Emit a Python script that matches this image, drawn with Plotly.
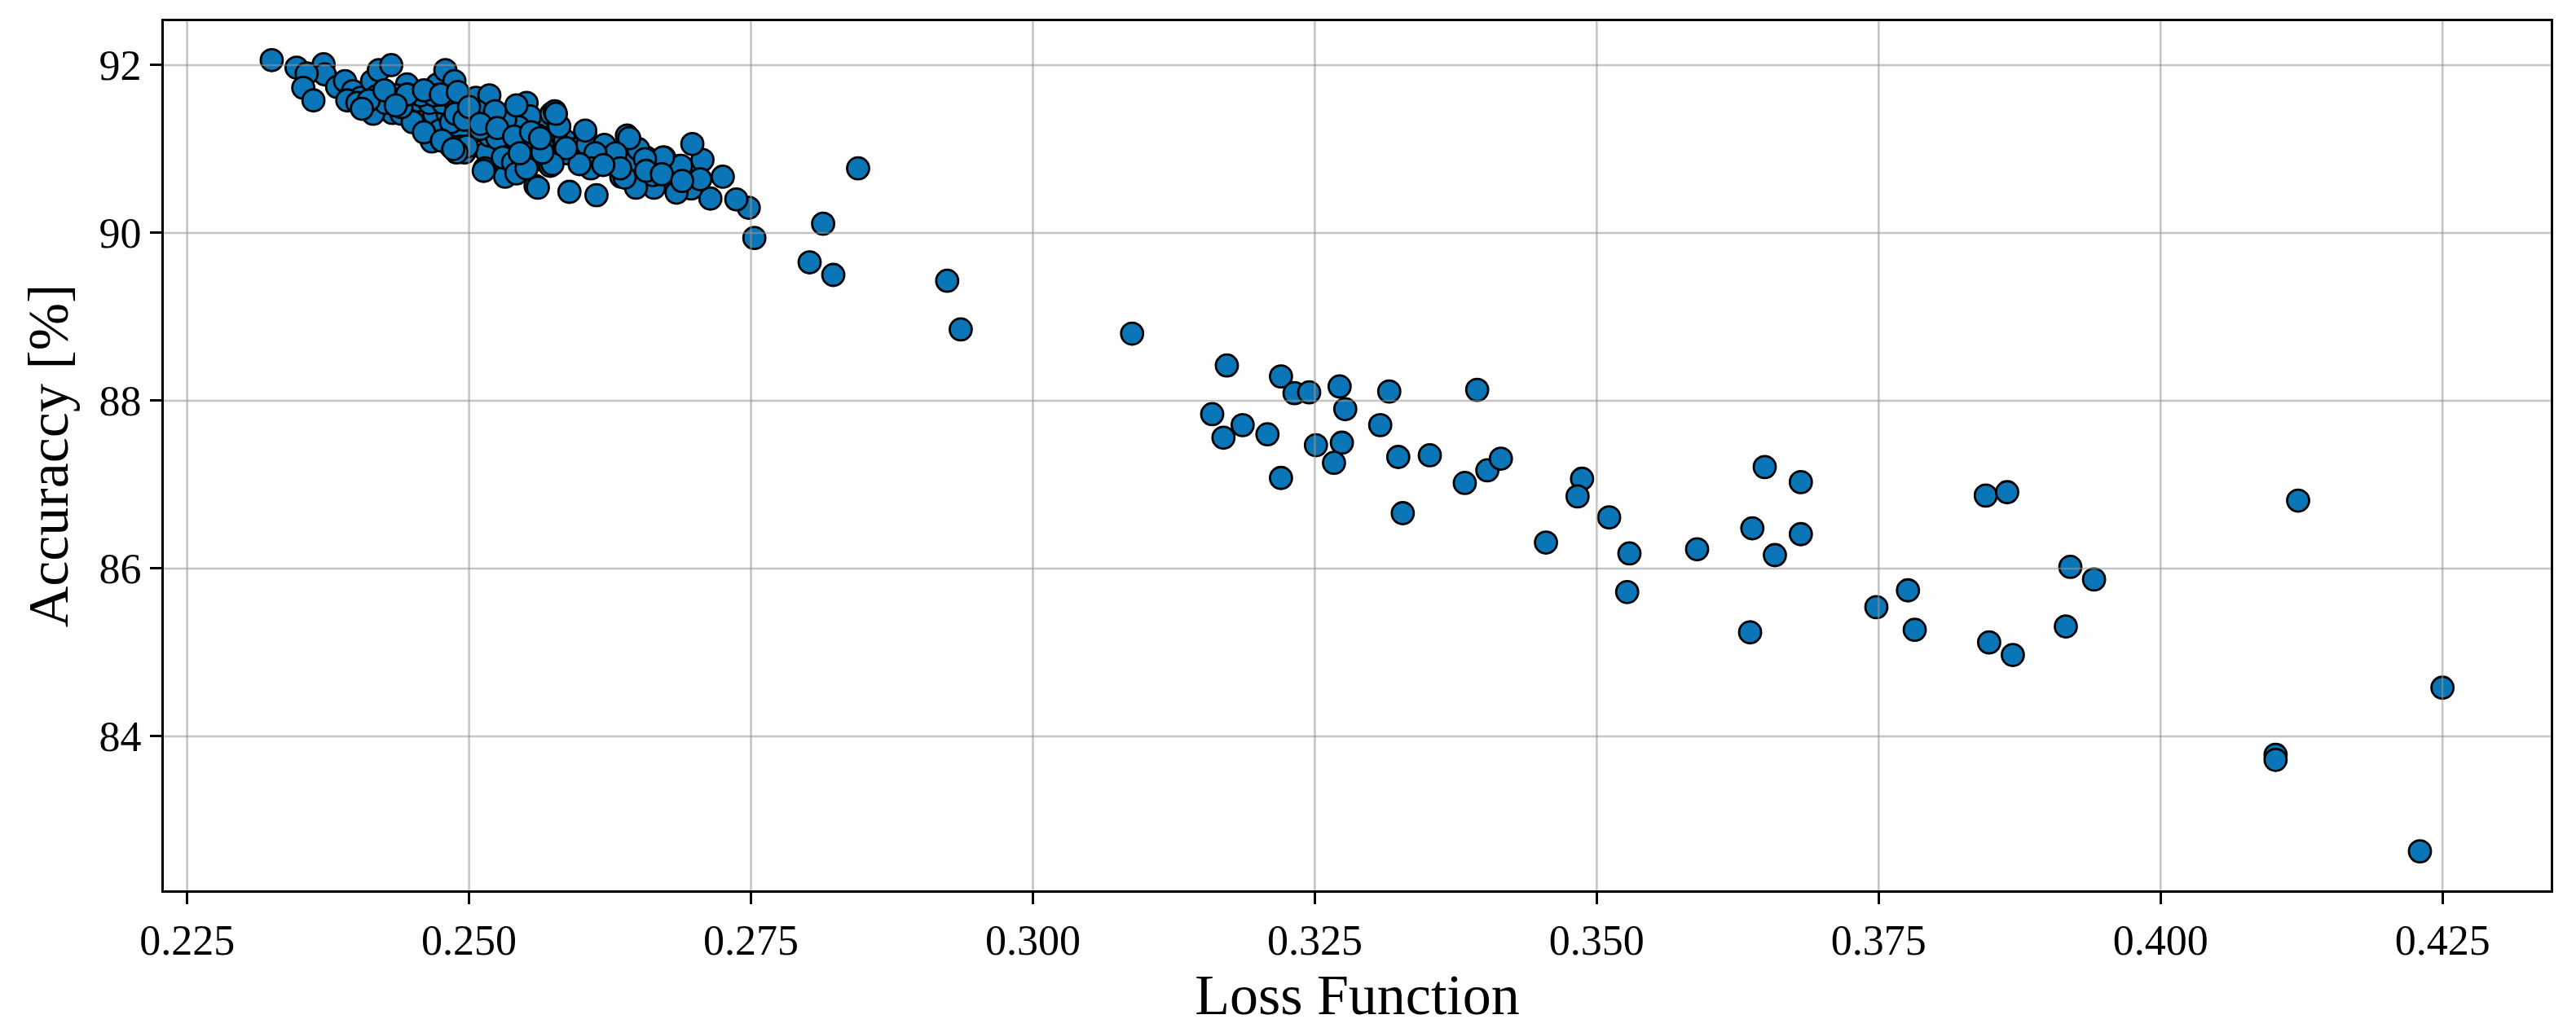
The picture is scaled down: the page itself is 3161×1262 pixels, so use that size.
import plotly.graph_objects as go

# ---- data (Loss Function vs Accuracy [%]) ----
loss_cluster = [
    0.2325, 0.2347, 0.2371, 0.2372, 0.2356, 0.2353, 0.2362, 0.2383, 0.2390, 0.2397,
    0.2404, 0.2414, 0.2418, 0.2420, 0.2431, 0.2432, 0.2415, 0.2426, 0.2445, 0.2448,
    0.2457, 0.2457, 0.2469, 0.2472, 0.2479, 0.2487, 0.2481, 0.2467, 0.2474, 0.2494,
    0.2496, 0.2493, 0.2506, 0.2509, 0.2516, 0.2518, 0.2522, 0.2514, 0.2532, 0.2534,
    0.2549, 0.2551, 0.2554, 0.2559, 0.2566, 0.2571, 0.2572, 0.2392, 0.2401, 0.2411,
    0.2436, 0.2440, 0.2450, 0.2455, 0.2465, 0.2477, 0.2488, 0.2484, 0.2457, 0.2469,
    0.2488, 0.2496, 0.2484, 0.2498, 0.2489, 0.2507, 0.2518, 0.2525, 0.2530, 0.2539,
    0.2544, 0.2532, 0.2542, 0.2561, 0.2556, 0.2542, 0.2551, 0.2571, 0.2573, 0.2513,
    0.2510, 0.2523, 0.2549, 0.2576, 0.2579, 0.2587, 0.2603, 0.2612, 0.2629, 0.2640,
    0.2657, 0.2673, 0.2687, 0.2635, 0.2655, 0.2676,
    0.2460, 0.2476, 0.2486, 0.2440, 0.2445, 0.2460, 0.2475, 0.2490, 0.2500, 0.2510,
    0.2525, 0.2540, 0.2555, 0.2545, 0.2565, 0.2585, 0.2595, 0.2605, 0.2620, 0.2625,
    0.2645, 0.2650, 0.2668, 0.2680, 0.2695, 0.2405, 0.2425, 0.2435,
    0.2753, 0.2748, 0.2737, 0.2725, 0.2714, 0.2707, 0.2698, 0.2697, 0.2688, 0.2681,
    0.2684, 0.2672, 0.2664, 0.2663, 0.2656, 0.2648, 0.2642, 0.2638, 0.2630, 0.2634,
    0.2613, 0.2612, 0.2608, 0.2603, 0.2589, 0.2598, 0.2586, 0.2580, 0.2577, 0.2574,
    0.2565, 0.2561, 0.2563, 0.2619, 0.2657, 0.2671, 0.2705, 0.2689,
]
acc_cluster = [
    92.06, 91.97, 92.01, 91.89, 91.90, 91.73, 91.58, 91.74, 91.81, 91.69,
    91.61, 91.81, 91.63, 91.94, 92.00, 91.43, 91.42, 91.55, 91.77, 91.55,
    91.35, 91.48, 91.42, 91.77, 91.94, 91.81, 91.42, 91.09, 91.22, 91.16,
    90.96, 91.03, 91.61, 91.22, 90.96, 91.64, 91.42, 90.77, 90.67, 91.00,
    91.09, 91.55, 91.39, 90.56, 90.87, 91.26, 90.80, 91.58, 91.55, 91.58,
    91.64, 91.42, 91.32, 91.58, 91.55, 91.55, 91.55, 91.32, 91.64, 91.64,
    91.42, 91.35, 91.03, 91.03, 90.96, 91.45, 91.16, 91.13, 90.90, 90.84,
    91.26, 91.35, 91.52, 91.16, 91.00, 90.71, 90.77, 91.06, 91.42, 90.74,
    91.24, 91.45, 91.10, 91.45, 91.27, 90.95, 91.19, 90.96, 90.96, 91.16,
    90.90, 90.90, 90.80, 90.67, 90.74, 90.61,
    91.20, 91.10, 91.00, 91.50, 91.65, 91.70, 91.65, 91.68, 91.50, 91.30,
    91.25, 91.15, 91.20, 90.95, 91.05, 91.10, 91.00, 91.05, 91.05, 90.88,
    90.85, 91.00, 90.78, 90.72, 90.70, 91.48, 91.70, 91.52,
    89.94, 90.30, 90.40, 90.67, 90.41, 90.87, 91.06, 90.53, 90.80, 90.58,
    90.48, 90.90, 90.54, 90.69, 90.88, 90.54, 91.13, 90.66, 90.95, 90.77,
    90.45, 90.95, 90.77, 91.22, 90.49, 90.82, 91.01, 91.27, 91.42, 90.82,
    90.96, 90.54, 91.13, 90.81, 90.74, 90.70, 90.64, 90.62,
]

loss_spread = [
    0.2845, 0.2814, 0.2802, 0.2823, 0.2924, 0.2936, 0.3088, 0.3172, 0.3220, 0.3232,
    0.3245, 0.3272, 0.3277, 0.3316, 0.3394, 0.3159, 0.3186, 0.3169, 0.3208, 0.3220,
    0.3251, 0.3274, 0.3267, 0.3308, 0.3324, 0.3352, 0.3328, 0.3383, 0.3403, 0.3415,
    0.3487, 0.3483, 0.3511, 0.3455, 0.3529, 0.3527,
    0.3589, 0.3649, 0.3681, 0.3638, 0.3681, 0.3658, 0.3636, 0.3748, 0.3776, 0.3782,
    0.3845, 0.3864, 0.3848, 0.3869, 0.3916, 0.3920, 0.3941, 0.4122, 0.4102, 0.4102,
    0.4250, 0.4230,
]
acc_spread = [
    90.77, 90.11, 89.65, 89.50, 89.43, 88.85, 88.80, 88.42, 88.29, 88.09,
    88.10, 88.17, 87.90, 88.11, 88.13, 87.84, 87.71, 87.56, 87.60, 87.08,
    87.47, 87.50, 87.26, 87.71, 87.33, 87.35, 86.66, 87.02, 87.17, 87.31,
    87.07, 86.86, 86.61, 86.31, 86.18, 85.72,
    86.23, 87.21, 87.03, 86.48, 86.41, 86.16, 85.24, 85.54, 85.74, 85.27,
    86.87, 86.91, 85.12, 84.97, 85.31, 86.02, 85.87, 86.81, 83.78, 83.72,
    84.58, 82.63,
]

loss_values = loss_cluster + loss_spread
accuracy_values = acc_cluster + acc_spread

x_ticks = [0.225, 0.250, 0.275, 0.300, 0.325, 0.350, 0.375, 0.400, 0.425]
y_ticks = [84, 86, 88, 90, 92]
x_range = [0.22293, 0.43460]
y_range = [82.165, 92.524]

FONT = "Liberation Serif, Times New Roman, serif"
GRID = "rgba(150,150,150,0.55)"

fig = go.Figure()
fig.add_trace(go.Scatter(
    x=loss_values, y=accuracy_values, mode="markers",
    marker=dict(size=27, color="#0a76b7", line=dict(color="black", width=2.8)),
    showlegend=False,
))

# grid drawn above the markers, as in the reference
for xv in x_ticks:
    fig.add_shape(type="line", xref="x", yref="paper", x0=xv, x1=xv, y0=0, y1=1,
                  line=dict(color=GRID, width=2.6), layer="above")
for yv in y_ticks:
    fig.add_shape(type="line", xref="paper", yref="y", x0=0, x1=1, y0=yv, y1=yv,
                  line=dict(color=GRID, width=2.6), layer="above")

axis_common = dict(
    showgrid=False, zeroline=False, showline=True, linecolor="black", linewidth=3,
    mirror=True, ticks="outside", ticklen=14, tickwidth=2.5, tickcolor="black",
    tickfont=dict(family=FONT, size=52, color="black"),
)
fig.update_xaxes(
    range=x_range, tickvals=x_ticks, ticktext=[f"{v:.3f}" for v in x_ticks],
    title=dict(text="Loss Function", font=dict(family=FONT, size=70, color="black"), standoff=0),
    **axis_common,
)
fig.update_yaxes(
    range=y_range, tickvals=y_ticks, ticktext=[str(v) for v in y_ticks],
    title=dict(text="Accuraccy [%]", font=dict(family=FONT, size=70, color="black"), standoff=16),
    **axis_common,
)
fig.update_layout(
    width=3161, height=1262,
    margin=dict(l=201, r=31, t=26, b=169, autoexpand=False),
    plot_bgcolor="white", paper_bgcolor="white",
)
fig.write_html(
    "out.html",
    config={"displayModeBar": False},
    post_script="document.body.style.margin='0';document.body.style.overflow='hidden';",
)
